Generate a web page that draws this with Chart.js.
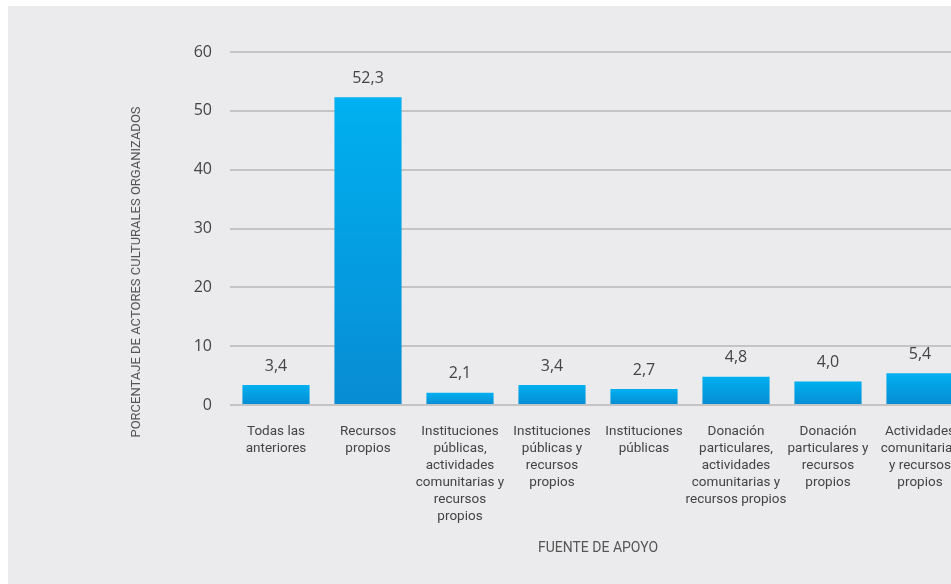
<!DOCTYPE html>
<html lang="es">
<head>
<meta charset="utf-8">
<title>Fuente de apoyo</title>
<script src="https://cdn.jsdelivr.net/npm/chart.js@4/dist/chart.umd.min.js"></script>
<style>
    html, body { margin: 0; padding: 0; background: #ffffff; overflow: hidden; }
    #wrap {
        position: absolute;
        left: 8px;
        top: 6px;
        width: 958px;
        height: 578px;
        background: #ebebed;
    }
</style>
</head>
<body>
<div id="wrap"><canvas id="apoyoChart"></canvas></div>
<script>
// Datos del gráfico
const categorias = [
    ['Todas las', 'anteriores'],
    ['Recursos', 'propios'],
    ['Instituciones', 'públicas,', 'actividades', 'comunitarias y', 'recursos', 'propios'],
    ['Instituciones', 'públicas y', 'recursos', 'propios'],
    ['Instituciones', 'públicas'],
    ['Donación', 'particulares,', 'actividades', 'comunitarias y', 'recursos propios'],
    ['Donación', 'particulares y', 'recursos', 'propios'],
    ['Actividades', 'comunitarias', 'y recursos', 'propios']
];
const porcentajes = [3.4, 52.3, 2.1, 3.4, 2.7, 4.8, 4.0, 5.4];
const tituloY = 'PORCENTAJE DE ACTORES CULTURALES ORGANIZADOS';
const tituloX = 'FUENTE DE APOYO';

const TEXT_COLOR = '#444444';

// Formato con coma decimal
function formatoValor(v) {
    return v.toFixed(1).replace('.', ',');
}

// Degradado vertical para cada barra (claro arriba, oscuro en la base)
function barGradient(context) {
    const chart = context.chart;
    const { chartArea, scales } = chart;
    if (!chartArea || !context.parsed) {
        return '#00aeef';
    }
    const top = scales.y.getPixelForValue(context.parsed.y);
    const base = scales.y.getPixelForValue(0);
    const g = chart.ctx.createLinearGradient(0, top, 0, base);
    g.addColorStop(0, '#00b0f0');
    g.addColorStop(1, '#088cd3');
    return g;
}

// Etiquetas de valor sobre las barras
const valueLabels = {
    id: 'valueLabels',
    afterDatasetsDraw(chart) {
        const ctx = chart.ctx;
        const meta = chart.getDatasetMeta(0);
        ctx.save();
        ctx.font = '16px "Open Sans", sans-serif';
        ctx.fillStyle = TEXT_COLOR;
        ctx.textAlign = 'center';
        ctx.textBaseline = 'middle';
        meta.data.forEach((bar, i) => {
            ctx.fillText(formatoValor(porcentajes[i]), bar.x, bar.y - 19);
        });
        ctx.restore();
    }
};

// Título del eje Y
const yTitle = {
    id: 'yTitle',
    afterDraw(chart) {
        const ctx = chart.ctx;
        ctx.save();
        ctx.translate(129, 266);
        ctx.rotate(-Math.PI / 2);
        ctx.font = '13px Roboto, sans-serif';
        ctx.fillStyle = '#555555';
        ctx.textAlign = 'center';
        ctx.textBaseline = 'middle';
        ctx.fillText(tituloY, 0, 0);
        ctx.restore();
    }
};

const ctx = document.getElementById('apoyoChart').getContext('2d');
new Chart(ctx, {
    type: 'bar',
    data: {
        labels: categorias,
        datasets: [{
            data: porcentajes,
            backgroundColor: barGradient,
            borderWidth: 0,
            categoryPercentage: 1,
            barPercentage: 0.73
        }]
    },
    options: {
        responsive: true,
        maintainAspectRatio: false,
        animation: false,
        layout: {
            padding: { top: 46, right: 0, bottom: 0, left: 0 }
        },
        plugins: {
            legend: { display: false },
            tooltip: { enabled: false }
        },
        scales: {
            x: {
                grid: { display: false, drawTicks: false },
                border: { display: false },
                ticks: {
                    color: TEXT_COLOR,
                    font: { family: 'Roboto', size: 13.5, lineHeight: 17 / 13.5 },
                    padding: 18,
                    autoSkip: false,
                    maxRotation: 0,
                    minRotation: 0
                },
                title: {
                    display: true,
                    text: tituloX,
                    color: '#555555',
                    font: { family: 'Roboto', size: 14 },
                    padding: { top: 0, bottom: 27 }
                },
                afterFit(axis) {
                    axis.height = 179;
                    axis.paddingLeft = 0;
                    axis.paddingRight = 0;
                }
            },
            y: {
                min: 0,
                max: 60,
                ticks: {
                    stepSize: 10,
                    color: TEXT_COLOR,
                    font: { family: 'Open Sans', size: 16 },
                    padding: 18
                },
                grid: {
                    color: '#c4c4c4',
                    lineWidth: 2,
                    drawTicks: false
                },
                border: { display: false },
                afterFit(axis) {
                    axis.width = 222;
                }
            }
        }
    },
    plugins: [valueLabels, yTitle]
});
</script>
</body>
</html>
